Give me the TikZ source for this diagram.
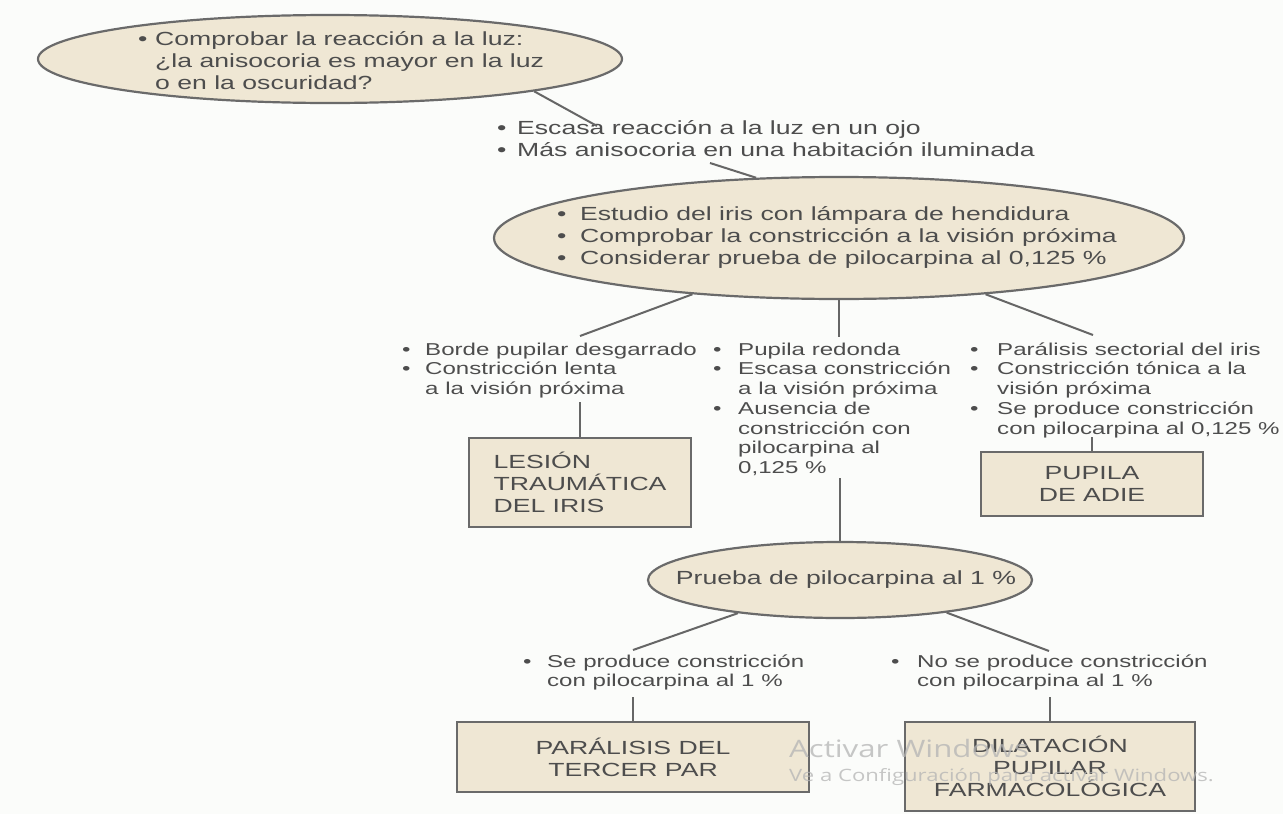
\documentclass[tikz,border=0pt]{standalone}
\usepackage{fontspec}
\setmainfont[FakeStretch=1.4]{Liberation Sans}
\newfontfamily\wmfont[FakeStretch=1.3]{Open Sans}
\usetikzlibrary{shapes.geometric}
\definecolor{fillc}{HTML}{EFE7D4}
\definecolor{edgec}{HTML}{6A6A6A}
\definecolor{txtc}{HTML}{4D4D4D}
\definecolor{linec}{HTML}{666666}
\definecolor{wmc}{HTML}{B4B4B4}
\definecolor{bgc}{HTML}{FBFCFA}
\newcommand{\itm}[2]{\makebox[#1][l]{•}#2}
\newcommand{\cnt}[2]{\hspace*{#1}#2}
\newcommand{\bigst}{\rule{0pt}{18pt}}
\newcommand{\smst}{\rule{0pt}{16pt}}
\newcommand{\bigf}{\fontsize{19}{22}\selectfont}
\newcommand{\smf}{\fontsize{17.2}{19.7}\selectfont}
\begin{document}
\begin{tikzpicture}[x=1pt,y=-1pt,
  ell/.style={ellipse, draw=edgec, fill=fillc, line width=2.2pt, inner sep=0pt},
  boxn/.style={rectangle, draw=edgec, fill=fillc, line width=2pt, inner sep=0pt, text=txtc, font=\bigf},
  txtb/.style={anchor=north west, inner sep=0pt, align=left, text=txtc, font=\bigf},
  txts/.style={anchor=north west, inner sep=0pt, align=left, text=txtc, font=\smf},
  conn/.style={draw=linec, line width=2pt},
  wm/.style={anchor=west, inner sep=0pt, text=wmc, opacity=0.75}]
\fill[bgc] (0,0) rectangle (1283,814);
\useasboundingbox (0,0) rectangle (1283,814);

% ellipses
\node[ell, minimum width=584pt, minimum height=88pt] (e1) at (330,59) {};
\node[ell, minimum width=690pt, minimum height=122pt] (e2) at (839,238) {};
\node[ell, minimum width=384pt, minimum height=76pt] (e3) at (840,580) {};

% boxes
\node[boxn, minimum width=222pt, minimum height=89pt, align=left] (b1) at (580,482.5) {LESIÓN\\TRAUMÁTICA\\DEL IRIS};
\node[boxn, minimum width=222pt, minimum height=64pt, align=center] (b2) at (1092,484) {PUPILA\\DE ADIE};
\node[boxn, minimum width=352pt, minimum height=70pt, align=center] (b3) at (633,757) {PARÁLISIS DEL\\TERCER PAR};
\node[boxn, minimum width=290pt, minimum height=89pt, align=center] (b4) at (1050,766.5) {DILATACIÓN\\PUPILAR\\FARMACOLÓGICA};

% texts
\node[txtb] (t1) at (138,27) {\bigst\itm{17pt}{Comprobar la reacción a la luz:}\\
  \cnt{17pt}{¿la anisocoria es mayor en la luz}\\
  \cnt{17pt}{o en la oscuridad?}};
\node[txtb] (t2) at (497,116) {\bigst\itm{20pt}{Escasa reacción a la luz en un ojo}\\
  \itm{20pt}{Más anisocoria en una habitación iluminada}};
\node[txtb] (t3) at (557,202) {\bigst\itm{23pt}{Estudio del iris con lámpara de hendidura}\\
  \itm{23pt}{Comprobar la constricción a la visión próxima}\\
  \itm{23pt}{Considerar prueba de pilocarpina al 0,125 \%}};
\node[txtb, anchor=center] (t9) at (846,580) {Prueba de pilocarpina al 1 \%};

\node[txts] (t4) at (402,339) {\smst\itm{23pt}{Borde pupilar desgarrado}\\
  \itm{23pt}{Constricción lenta}\\
  \cnt{23pt}{a la visión próxima}};
\node[txts] (t5) at (713,339) {\smst\itm{25pt}{Pupila redonda}\\
  \itm{25pt}{Escasa constricción}\\
  \cnt{25pt}{a la visión próxima}\\
  \itm{25pt}{Ausencia de}\\
  \cnt{25pt}{constricción con}\\
  \cnt{25pt}{pilocarpina al}\\
  \cnt{25pt}{0,125 \%}};
\node[txts] (t6) at (970,339) {\smst\itm{27pt}{Parálisis sectorial del iris}\\
  \itm{27pt}{Constricción tónica a la}\\
  \cnt{27pt}{visión próxima}\\
  \itm{27pt}{Se produce constricción}\\
  \cnt{27pt}{con pilocarpina al 0,125 \%}};
\node[txts] (t7) at (523,651) {\smst\itm{24pt}{Se produce constricción}\\
  \cnt{24pt}{con pilocarpina al 1 \%}};
\node[txts] (t8) at (891,651) {\smst\itm{26pt}{No se produce constricción}\\
  \cnt{26pt}{con pilocarpina al 1 \%}};

% connector end points
\coordinate (c1) at (597,126);
\coordinate (c2) at (710,163);
\coordinate (c3) at (580,336);
\coordinate (c4) at (839,337);
\coordinate (c5) at (1093,335);
\coordinate (c6) at (580,402);
\coordinate (c7) at (840,478);
\coordinate (c8) at (1092,437);
\coordinate (c9) at (633,650);
\coordinate (c10) at (1049,651);
\coordinate (c11) at (633,697);
\coordinate (c12) at (1050,697);

\draw[conn] (e1.-9.2) -- (c1);
\draw[conn] (c2) -- (e2.144.5);
\draw[conn] (e2.201) -- (c3);
\draw[conn] (e2.south) -- (c4);
\draw[conn] (e2.-21.7) -- (c5);
\draw[conn] (c6) -- (b1.north);
\draw[conn] (c7) -- (e3.north);
\draw[conn] (c8) -- (b2.north);
\draw[conn] (e3.198) -- (c9);
\draw[conn] (e3.-17.6) -- (c10);
\draw[conn] (c11) -- (b3.north);
\draw[conn] (c12) -- (b4.north);

% watermark
\node[wm, font={\wmfont\fontsize{24}{24}\selectfont}] (w1) at (789,748) {Activar Windows};
\node[wm, font={\wmfont\fontsize{17}{17}\selectfont}] (w2) at (789,777) {Ve a Configuración para activar Windows.};
\end{tikzpicture}
\end{document}
